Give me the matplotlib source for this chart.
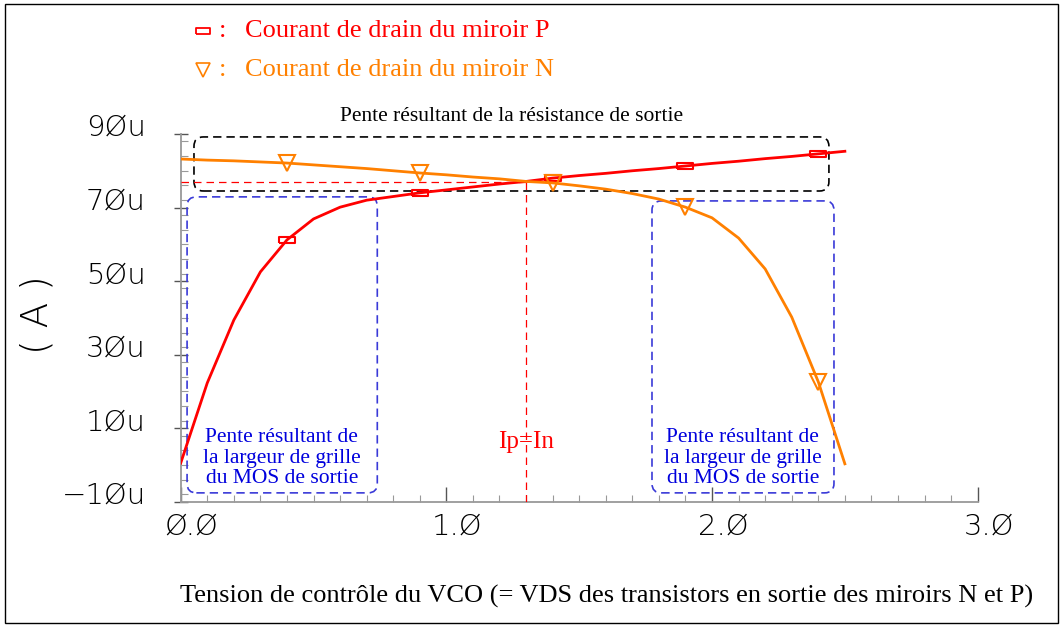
import matplotlib
matplotlib.use("Agg")
import matplotlib.pyplot as plt
import matplotlib.transforms as mtransforms
from matplotlib.patches import FancyBboxPatch, Rectangle
from matplotlib.lines import Line2D
from matplotlib.ticker import FixedLocator, MultipleLocator

# VDS sweep (V) and drain currents of the two mirrors (uA)
vds = [0.0, 0.1, 0.2, 0.3, 0.4, 0.5, 0.6, 0.7, 0.8, 0.9,
       1.0, 1.1, 1.2, 1.3, 1.4, 1.5, 1.6, 1.7, 1.8, 1.9,
       2.0, 2.1, 2.2, 2.3, 2.4, 2.5]
i_p = [0.5, 22.3, 39.4, 52.5, 61.2, 66.9, 70.1, 72.0, 73.0, 74.0,
       74.8, 75.6, 76.4, 77.1, 78.0, 78.7, 79.3, 80.0, 80.6, 81.3,
       82.0, 82.6, 83.3, 83.9, 84.6, 85.3]
i_n = [83.2, 82.9, 82.7, 82.4, 82.1, 81.6, 81.1, 80.6, 80.0, 79.4,
       78.9, 78.3, 77.8, 77.1, 76.7, 75.9, 75.0, 73.8, 72.3, 70.1,
       67.2, 61.7, 53.3, 40.2, 22.6, 0.3]
marker_idx = [4, 9, 14, 19, 24]

# operating point where Ip = In
v_eq = 1.3
i_eq = 77.0

x_ticks = [0, 1, 2, 3]
x_labels = ['Ø.Ø', '1.Ø', '2.Ø', '3.Ø']
y_ticks = [-10, 10, 30, 50, 70, 90]
y_labels = ['\u22121Øu', '1Øu', '3Øu', '5Øu', '7Øu', '9Øu']

RED = '#ff0000'
ORANGE = '#ff8000'
BLUE = '#0000dd'
BOXBLUE = '#3a3ad8'
SERIF = 'Liberation Serif'
AXFONT = dict(family='DejaVu Sans', weight='light')

W, H = 1063, 626
fig = plt.figure(figsize=(W / 100, H / 100), dpi=100)
ax = fig.add_axes([180.7 / W, 1 - 501.7 / H, 797 / W, 367.7 / H])

# wide hollow rectangle marker for the P mirror
rect_marker = [(-1, -0.42), (1, -0.42), (1, 0.42), (-1, 0.42), (-1, -0.42)]

ax.plot(vds, i_p, color=RED, lw=2.0, marker=rect_marker, markevery=marker_idx,
        ms=11, mfc='none', mec=RED, mew=1.5, zorder=4)
ax.plot(vds, i_n, color=ORANGE, lw=2.0, marker='v', markevery=marker_idx,
        ms=12, mfc='none', mec=ORANGE, mew=1.5, zorder=4)

# Ip = In guides
ax.plot([0, v_eq], [i_eq, i_eq], color=RED, lw=0.9, ls=(0, (6, 4)), zorder=3)
ax.plot([v_eq, v_eq], [-10, i_eq], color=RED, lw=0.9, ls=(0, (6, 4)), zorder=3)
ax.text(v_eq, 6.3, 'Ip=In', color=RED, fontsize=18, family=SERIF,
        ha='center', va='center', zorder=5)

# rounded dashed boxes around the slope regions
aspect = 265.7 / 3.677


def region_box(x0, x1, y0, y1, color, lw):
    box = FancyBboxPatch((x0, y0), x1 - x0, y1 - y0,
                         boxstyle='round,pad=0,rounding_size=0.035',
                         mutation_aspect=aspect, fill=False, ec=color,
                         lw=lw, ls=(0, (5, 3)), zorder=2, clip_on=False)
    ax.add_patch(box)


region_box(0.05, 2.44, 74.5, 89.2, 'black', 1.2)
region_box(0.024, 0.74, -7.6, 72.9, BOXBLUE, 1.2)
region_box(1.774, 2.459, -7.6, 71.8, BOXBLUE, 1.2)

ax.text(1.245, 94.8, 'Pente résultant de la résistance de sortie',
        color='black', fontsize=15.5, family=SERIF, ha='center', va='center')
slope_txt = 'Pente résultant de\nla largeur de grille\ndu MOS de sortie'
ax.text(0.381, 1.8, slope_txt, color=BLUE, fontsize=15.5, family=SERIF,
        ha='center', va='center', linespacing=1.12)
ax.text(2.116, 1.8, slope_txt, color=BLUE, fontsize=15.5, family=SERIF,
        ha='center', va='center', linespacing=1.12)

# axes
ax.set_xlim(0, 3)
ax.set_ylim(-10, 90)
for side in ['top', 'right']:
    ax.spines[side].set_visible(False)
for side in ['left', 'bottom']:
    ax.spines[side].set_color('#999999')
    ax.spines[side].set_linewidth(1.3)

ax.xaxis.set_major_locator(FixedLocator(x_ticks))
ax.xaxis.set_minor_locator(MultipleLocator(0.1))
ax.yaxis.set_major_locator(FixedLocator(y_ticks))
ax.yaxis.set_minor_locator(MultipleLocator(4))
ax.set_xticklabels(x_labels, fontsize=21, **AXFONT)
ax.set_yticklabels(y_labels, fontsize=21, **AXFONT)
ax.tick_params(axis='x', which='major', direction='in', length=11, width=1.0,
               color='#555555', pad=8)
ax.tick_params(axis='x', which='minor', direction='in', length=5, width=0.8,
               color='#999999')
ax.tick_params(axis='y', which='major', direction='inout', length=10, width=1.0,
               color='#555555', pad=20)
ax.tick_params(axis='y', which='minor', direction='in', length=5, width=0.8,
               color='#999999')

x_shift = mtransforms.ScaledTranslation(11 / 100, 0, fig.dpi_scale_trans)
for lab in ax.get_xticklabels():
    lab.set_transform(lab.get_transform() + x_shift)
y_shift = mtransforms.ScaledTranslation(0, 9 / 100, fig.dpi_scale_trans)
for lab in ax.get_yticklabels():
    lab.set_transform(lab.get_transform() + y_shift)

fig.text(37 / W, 1 - 315 / H, '( A )', rotation=90, fontsize=27,
         ha='center', va='center', **AXFONT)
fig.text(607 / W, 1 - 596 / H,
         'Tension de contrôle du VCO (= VDS des transistors en sortie des miroirs N et P)',
         fontsize=19, family=SERIF, ha='center', va='center')

# legend drawn as two text lines with their markers
fig.add_artist(Line2D([203 / W], [1 - 31 / H], marker=rect_marker, ms=10,
                      mfc='none', mec=RED, mew=1.3, ls='none',
                      transform=fig.transFigure))
fig.add_artist(Line2D([203 / W], [1 - 70 / H], marker='v', ms=10,
                      mfc='none', mec=ORANGE, mew=1.2, ls='none',
                      transform=fig.transFigure))
fig.text(223 / W, 1 - 31 / H, ':', color=RED, fontsize=19, family=SERIF,
         ha='center', va='center')
fig.text(223 / W, 1 - 70 / H, ':', color=ORANGE, fontsize=19, family=SERIF,
         ha='center', va='center')
fig.text(245 / W, 1 - 31 / H, 'Courant de drain du miroir P', color=RED,
         fontsize=19, family=SERIF, ha='left', va='center')
fig.text(245 / W, 1 - 70 / H, 'Courant de drain du miroir N', color=ORANGE,
         fontsize=19, family=SERIF, ha='left', va='center')

# outer frame
fig.add_artist(Rectangle((5 / W, 3 / H), 1053 / W, 619 / H, fill=False,
                         ec='black', lw=1.0, transform=fig.transFigure))

fig.savefig('out.png', dpi=100)
